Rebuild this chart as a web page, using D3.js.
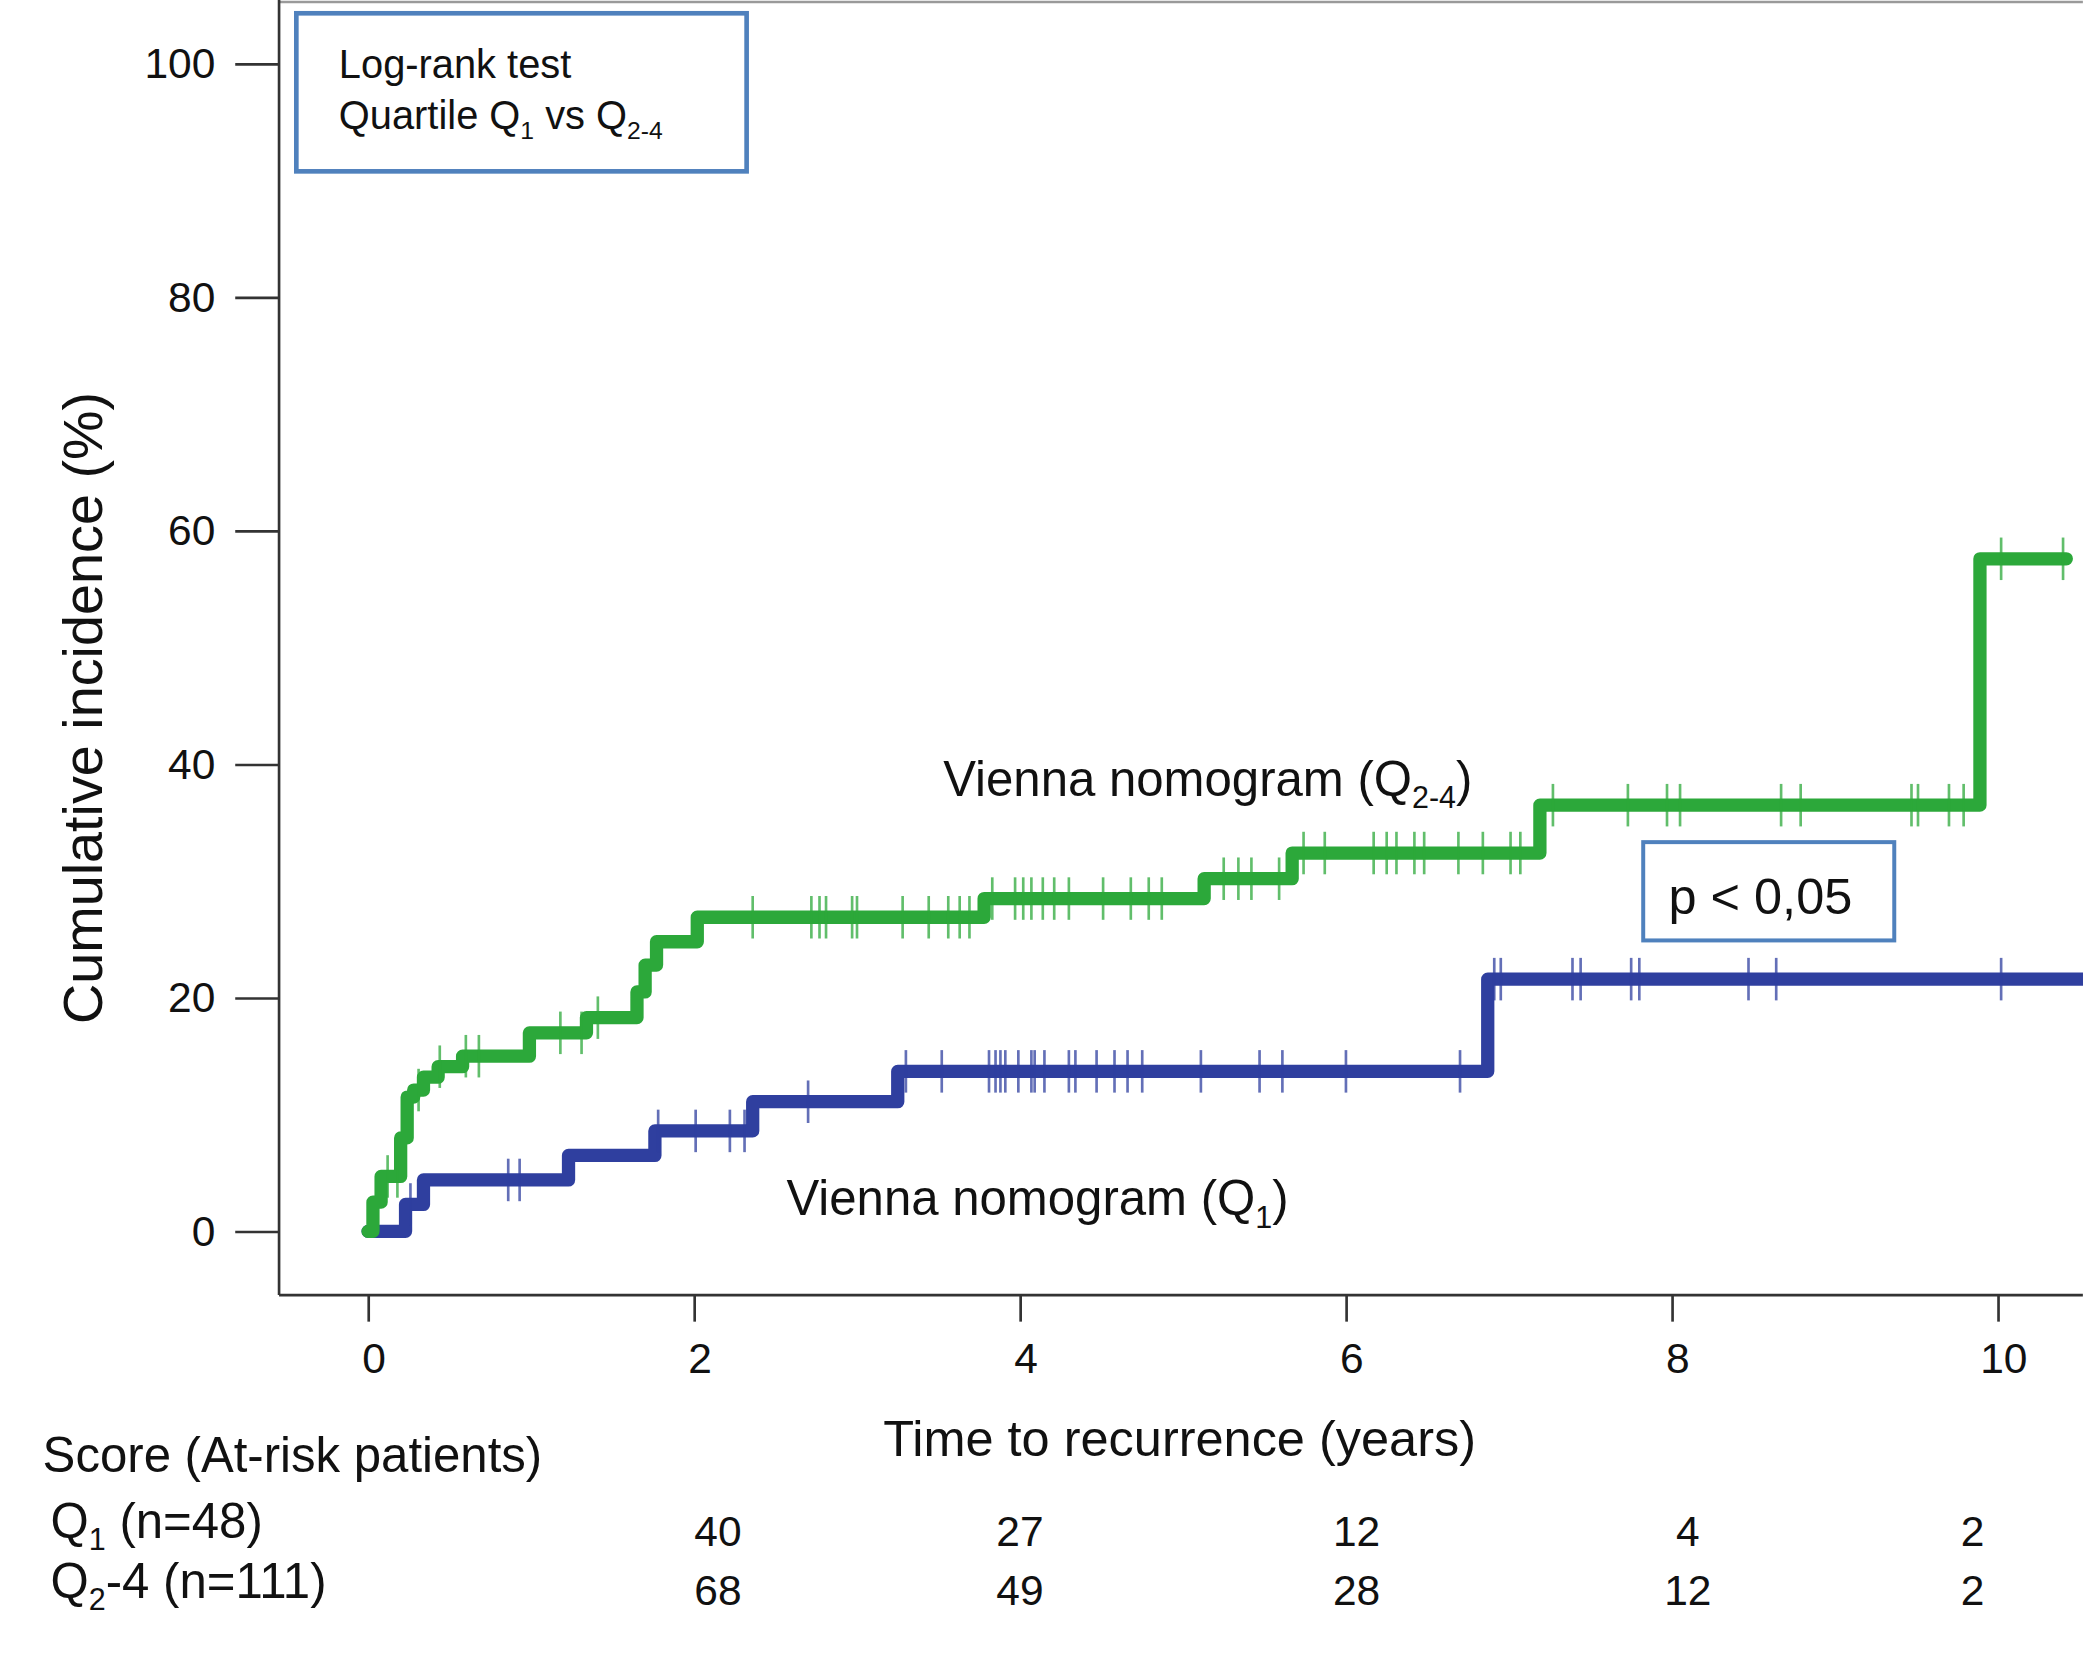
<!DOCTYPE html>
<html>
<head>
<meta charset="utf-8">
<script src="https://cdn.jsdelivr.net/npm/d3@7"></script>
<style>
  html, body { margin: 0; padding: 0; background: #fff; }
  svg { display: block; }
  text { font-family: "Liberation Sans Narrow", "Liberation Sans", Arial, sans-serif; fill: #111; }
</style>
</head>
<body>
<div id="chart"></div>
<script>
// step curves: [years, cumulative incidence %]
const q24Times  = [0, 0.03, 0.08, 0.20, 0.24, 0.28, 0.34, 0.43, 0.58, 0.99, 1.34, 1.65, 1.70, 1.77, 2.02, 3.78, 5.13, 5.67, 7.19, 9.89, 10.42]
const q24Values = [0, 2.5, 4.7, 8.0, 11.5, 12.1, 13.2, 14.1, 15.0, 17.0, 18.3, 20.5, 22.8, 24.8, 26.9, 28.5, 30.2, 32.4, 36.5, 57.6, 57.6]
const q1Times  = [0, 0.23, 0.34, 1.23, 1.76, 2.36, 3.25, 6.87, 10.7]
const q1Values = [0, 2.3, 4.4, 6.5, 8.6, 11.1, 13.7, 21.6, 21.6]

// censored observations (years)
const q24Censor = [0.12, 0.18, 0.31, 0.44, 0.60, 0.68, 1.18, 1.31, 1.41, 2.36, 2.72, 2.77, 2.81, 2.97, 3.00, 3.28, 3.44, 3.56, 3.63, 3.69,
  3.83, 3.97, 4.02, 4.07, 4.14, 4.21, 4.30, 4.51, 4.68, 4.79, 4.87, 5.25, 5.34, 5.42, 5.59, 5.74, 5.87, 6.17, 6.25,
  6.31, 6.42, 6.48, 6.69, 6.84, 7.01, 7.07, 7.27, 7.73, 7.97, 8.05, 8.67, 8.79, 9.47, 9.51, 9.70, 9.79, 10.02, 10.40]
const q1Censor = [0.26, 0.86, 0.93, 1.78, 2.01, 2.22, 2.31, 2.70, 3.30, 3.52, 3.81, 3.85, 3.88, 3.91, 3.99, 4.07, 4.09,
  4.15, 4.30, 4.34, 4.47, 4.58, 4.66, 4.75, 5.11, 5.47, 5.61, 6.00, 6.70, 6.91, 6.95, 7.39, 7.44, 7.75, 7.80, 8.47, 8.64, 10.02]

const xTicks = [0, 2, 4, 6, 8, 10]
const yTicks = [0, 20, 40, 60, 80, 100]

// patients at risk
const riskTimes = [2, 4, 6, 8, 10]
const riskQ1  = [40, 27, 12, 4, 2]
const riskQ24 = [68, 49, 28, 12, 2]

const green = '#2ca83a'
const blue = '#2f3f9f'
const boxBlue = '#4f81bd'

const W = 1568, H = 1255

const svg = d3.select('#chart')
  .append('svg')
  .attr('viewBox', [0, 0, W, H])
  .attr('width', 2083)
  .attr('height', 1667)

const x = d3.scaleLinear().domain([0, 10]).range([277, 1504])
const y = d3.scaleLinear().domain([0, 100]).range([927, 48])

const axisX0 = 210, axisY0 = 975

// frame: top grey line, left and bottom axis lines
svg.append('line').attr('x1', axisX0).attr('x2', W).attr('y1', 1.5).attr('y2', 1.5)
  .attr('stroke', '#9a9a9a').attr('stroke-width', 2)
svg.append('line').attr('x1', axisX0).attr('x2', axisX0).attr('y1', 0).attr('y2', axisY0)
  .attr('stroke', '#333').attr('stroke-width', 2)
svg.append('line').attr('x1', axisX0).attr('x2', W).attr('y1', axisY0).attr('y2', axisY0)
  .attr('stroke', '#333').attr('stroke-width', 2)

// y axis
const gy = svg.append('g')
  .attr('transform', `translate(${axisX0},0)`)
  .call(d3.axisLeft(y).tickValues(yTicks).tickSize(33).tickPadding(15).tickFormat(d3.format('d')))
gy.select('.domain').remove()
gy.selectAll('.tick line').attr('stroke', '#333').attr('stroke-width', 2)
gy.selectAll('.tick text').attr('font-size', 32).attr('fill', '#111')
  .style('font-family', '"Liberation Sans Narrow", "Liberation Sans", sans-serif')

// x axis
const gx = svg.append('g')
  .attr('transform', `translate(0,${axisY0})`)
  .call(d3.axisBottom(x).tickValues(xTicks).tickSize(20).tickPadding(16).tickFormat(d3.format('d')))
gx.select('.domain').remove()
gx.selectAll('.tick line').attr('stroke', '#333').attr('stroke-width', 2)
gx.selectAll('.tick text').attr('font-size', 32).attr('fill', '#111').attr('dx', 4)
  .style('font-family', '"Liberation Sans Narrow", "Liberation Sans", sans-serif')

// axis titles
svg.append('text')
  .attr('transform', 'translate(77,533) rotate(-90)')
  .attr('text-anchor', 'middle')
  .attr('font-size', 42)
  .style('font-family', '"Liberation Sans", Arial, sans-serif')
  .text('Cumulative incidence (%)')

svg.append('text')
  .attr('x', 888).attr('y', 1096)
  .attr('text-anchor', 'middle')
  .attr('font-size', 38)
  .text('Time to recurrence (years)')

// curves
const stepLine = d3.line()
  .x(d => x(d[0]))
  .y(d => y(d[1]))
  .curve(d3.curveStepAfter)

const stepAt = (times, values, t) => values[Math.max(0, d3.bisectRight(times, t) - 1)]

function drawCurve(times, values, censor, color) {
  const pts = times.map((t, i) => [t, values[i]])
  svg.append('path')
    .datum(pts)
    .attr('d', stepLine)
    .attr('fill', 'none')
    .attr('stroke', color)
    .attr('stroke-width', 10)
    .attr('stroke-linejoin', 'round')
    .attr('stroke-linecap', 'round')

  svg.append('g')
    .selectAll('line')
    .data(censor)
    .join('line')
    .attr('x1', d => x(d)).attr('x2', d => x(d))
    .attr('y1', d => y(stepAt(times, values, d)) - 16)
    .attr('y2', d => y(stepAt(times, values, d)) + 16)
    .attr('stroke', color)
    .attr('stroke-opacity', 0.75)
    .attr('stroke-width', 2)
}

drawCurve(q1Times, q1Values, q1Censor, blue)
drawCurve(q24Times, q24Values, q24Censor, green)

// text with subscripts: parts = [[text, isSub], ...]
function richText(px, py, size, parts) {
  const t = svg.append('text').attr('x', px).attr('y', py).attr('font-size', size)
  parts.forEach(([s, sub], i) => {
    const span = t.append('tspan').text(s)
    const prevSub = i > 0 && parts[i - 1][1]
    if (sub && !prevSub) span.attr('font-size', size * 0.62).attr('dy', size * 0.25)
    else if (!sub && prevSub) span.attr('dy', -size * 0.25)
  })
  return t
}

// log-rank box
svg.append('rect').attr('x', 223).attr('y', 10).attr('width', 339).attr('height', 119)
  .attr('fill', 'none').attr('stroke', boxBlue).attr('stroke-width', 3.5)
richText(255, 59, 30, [['Log-rank test', false]])
richText(255, 97, 30, [['Quartile Q', false], ['1', true], [' vs Q', false], ['2-4', true]])

// p-value box
svg.append('rect').attr('x', 1237).attr('y', 634).attr('width', 189).attr('height', 74)
  .attr('fill', '#fff').attr('stroke', boxBlue).attr('stroke-width', 3)
richText(1256, 688, 38, [['p < 0,05', false]])

// curve labels
richText(710, 599, 37, [['Vienna nomogram (Q', false], ['2-4', true], [')', false]])
richText(592, 915, 37, [['Vienna nomogram (Q', false], ['1', true], [')', false]])

// at-risk table
richText(32, 1108, 37, [['Score (At-risk patients)', false]])
richText(38, 1158, 37, [['Q', false], ['1', true], [' (n=48)', false]])
richText(38, 1203, 37, [['Q', false], ['2', true], ['-4 (n=111)', false]])

const riskNudge = [18, 0, 8, 12, -19]
svg.append('g').selectAll('text')
  .data(riskQ1)
  .join('text')
  .attr('x', (d, i) => x(riskTimes[i]) + riskNudge[i])
  .attr('y', 1164)
  .attr('text-anchor', 'middle')
  .attr('font-size', 32)
  .text(d => d)
svg.append('g').selectAll('text')
  .data(riskQ24)
  .join('text')
  .attr('x', (d, i) => x(riskTimes[i]) + riskNudge[i])
  .attr('y', 1208)
  .attr('text-anchor', 'middle')
  .attr('font-size', 32)
  .text(d => d)
</script>
</body>
</html>
